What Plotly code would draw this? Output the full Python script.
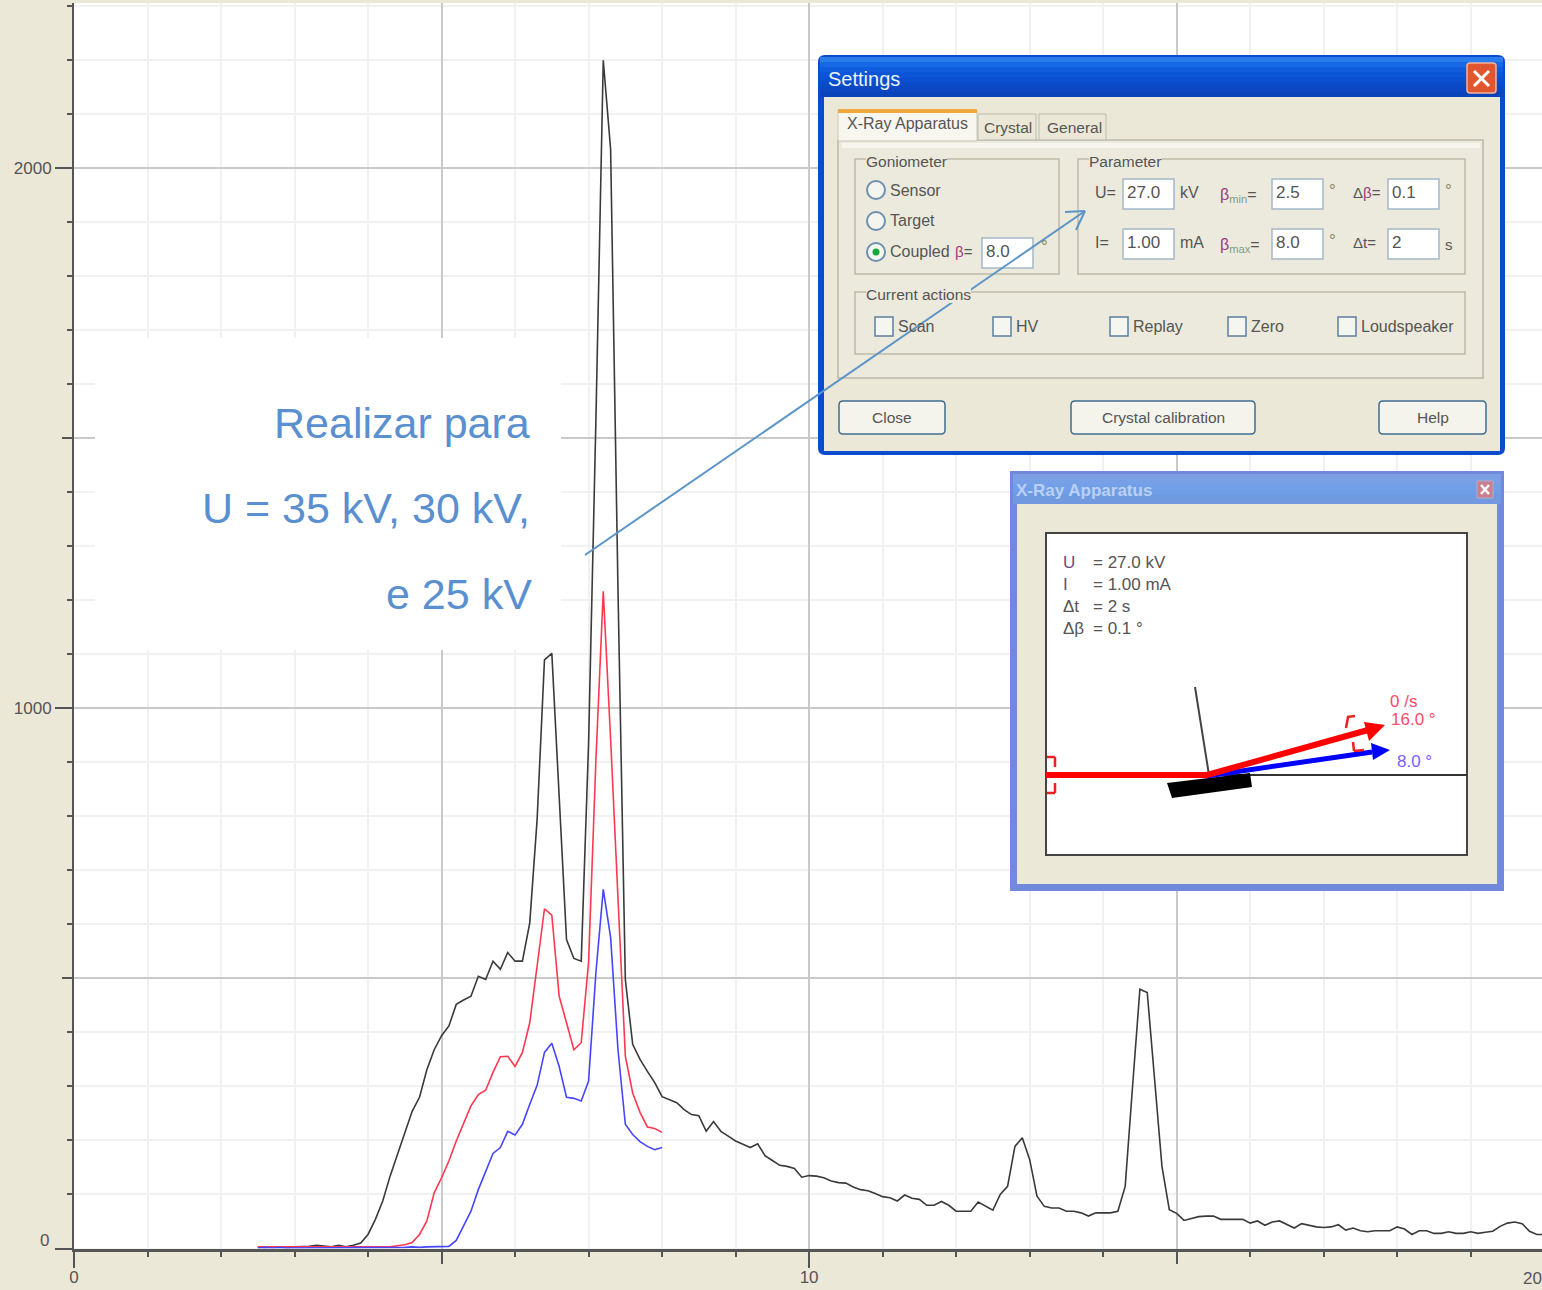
import plotly.graph_objects as go

W, H = 1542, 1290
BETA_START, BETA_STEP = 2.5, 0.1

# Counts per second; one value per 0.1 degree from 2.5 degrees.
rate_35kv = [
    3, 2, 3, 2, 2,                                    # 2.5 - 2.9
    3, 3, 4, 6, 5, 3, 6, 3,                           # 3.0 - 3.7
    6, 10,                                            # 3.8 - 3.9
    26, 54, 88, 134, 174, 215, 254, 280, 331, 368,    # 4.x
    394, 412, 452, 460, 467, 504, 498, 532, 517, 548, # 5.x
    532, 532, 603, 794, 1090, 1102, 831, 572, 537, 532, # 6.x
    935, 1535, 2200, 2035, 1220, 498, 378, 350, 328, 307, # 7.x
    281, 276, 270, 257, 248, 246, 217, 235, 217, 208, # 8.x
    199, 193, 187, 194, 172, 163, 154, 152, 148, 132, # 9.x
    135, 134, 131, 125, 122, 121, 114, 109, 107, 102, # 10.x
    96, 94, 88, 99, 93, 91, 80, 80, 87, 80,           # 11.x
    69, 69, 69, 86, 78, 71, 100, 115, 189, 205,       # 12.x
    165, 97, 78, 75, 75, 69, 69, 66, 60, 66,          # 13.x
    66, 66, 69, 115, 300, 480, 474, 313, 152, 72,     # 14.x
    65, 52, 56, 59, 60, 60, 54, 54, 54, 54,           # 15.x
    47, 51, 43, 49, 51, 44, 38, 46, 43, 40,           # 16.x
    39, 40, 44, 34, 38, 33, 31, 33, 33, 33,           # 17.x
    40, 36, 26, 33, 33, 28, 28, 31, 28, 28,           # 18.x
    31, 28, 30, 32, 41, 47, 49, 46, 32, 26,           # 19.x
    26,                                               # 20.0
]
rate_30kv = [
    3, 3, 2, 3, 2,
    2, 3, 2, 3, 2, 3, 2, 3, 2, 2, 3, 2, 3, 3,         # 3.0 - 4.3
    5, 7, 11, 26, 51, 103,                            # 4.4 - 4.9
    131, 162, 199, 230, 264, 285, 293, 326, 355, 356, # 5.x
    337, 363, 418, 523, 629, 617, 467, 418, 368, 381, # 6.x
    530, 905, 1217, 943, 646, 356, 288, 252, 225, 222, # 7.x
    215,
]
rate_25kv = [
    1, 2, 1, 2, 1,
    1, 2, 1, 2, 1, 1, 2, 1, 1, 2,                     # 3.0 - 3.9
    1, 2, 1, 2, 1, 2, 3, 2, 3, 3,                     # 4.x
    4, 4, 15, 41, 69, 109, 143, 176, 187, 217,        # 5.x
    210, 230, 267, 302, 363, 380, 337, 280, 278, 273, # 6.x
    310, 511, 665, 576, 368, 230, 211, 198, 189, 183, # 7.x
    187,
]

x_major = [0, 5, 10, 15, 20]
x_labelled = [0, 10]
x_labels = ["0", "10"]
y_major = [0, 500, 1000, 1500, 2000]
y_labelled = [1000, 2000]
y_labels = ["1000", "2000"]

note_lines = ["Realizar para", "U = 35 kV, 30 kV,", "e 25 kV"]
readout_names = ["U", "I", "Δt", "Δβ"]
readout_values = ["= 27.0 kV", "= 1.00 mA", "= 2 s", "= 0.1 °"]


def betas(values):
    return [round(BETA_START + BETA_STEP * i, 1) for i in range(len(values))]


BEIGE = "#EBE8D8"
TEXT = "#555555"
FONT = "Liberation Sans"
shapes, notes = [], []


def px(x):
    return x / W


def py(y):
    return 1 - y / H


def rect(x0, y0, x1, y1, fill=None, line=None, w=1):
    shapes.append(dict(type="rect", xref="paper", yref="paper", layer="above",
                       x0=px(x0), x1=px(x1), y0=py(y0), y1=py(y1),
                       fillcolor=fill or "rgba(0,0,0,0)",
                       line=dict(color=line or "rgba(0,0,0,0)", width=w if line else 0)))


def rrect(x0, y0, x1, y1, r, fill, line=None, w=1):
    a = [(x0 + r, y0), (x1 - r, y0), (x1, y0), (x1, y0 + r), (x1, y1 - r), (x1, y1),
         (x1 - r, y1), (x0 + r, y1), (x0, y1), (x0, y1 - r), (x0, y0 + r), (x0, y0)]
    p = [(px(u), py(v)) for u, v in a]
    d = (f"M{p[0][0]},{p[0][1]} L{p[1][0]},{p[1][1]} Q{p[2][0]},{p[2][1]} {p[3][0]},{p[3][1]} "
         f"L{p[4][0]},{p[4][1]} Q{p[5][0]},{p[5][1]} {p[6][0]},{p[6][1]} "
         f"L{p[7][0]},{p[7][1]} Q{p[8][0]},{p[8][1]} {p[9][0]},{p[9][1]} "
         f"L{p[10][0]},{p[10][1]} Q{p[11][0]},{p[11][1]} {p[0][0]},{p[0][1]} Z")
    shapes.append(dict(type="path", xref="paper", yref="paper", layer="above", path=d,
                       fillcolor=fill,
                       line=dict(color=line or "rgba(0,0,0,0)", width=w if line else 0)))


def seg(x0, y0, x1, y1, color, w=1):
    shapes.append(dict(type="line", xref="paper", yref="paper", layer="above",
                       x0=px(x0), x1=px(x1), y0=py(y0), y1=py(y1),
                       line=dict(color=color, width=w)))


def poly(points, fill, line=None, w=1):
    d = "M" + " L".join(f"{px(u)},{py(v)}" for u, v in points) + " Z"
    shapes.append(dict(type="path", xref="paper", yref="paper", layer="above", path=d,
                       fillcolor=fill,
                       line=dict(color=line or "rgba(0,0,0,0)", width=w if line else 0)))


def circle(cx, cy, r, fill, line=None, w=1):
    shapes.append(dict(type="circle", xref="paper", yref="paper", layer="above",
                       x0=px(cx - r), x1=px(cx + r), y0=py(cy + r), y1=py(cy - r),
                       fillcolor=fill,
                       line=dict(color=line or "rgba(0,0,0,0)", width=w if line else 0)))


def txt(x, y, s, size=16, color=TEXT, anchor="left", bg=None, family=FONT):
    notes.append(dict(xref="paper", yref="paper", x=px(x), y=py(y), text=s, showarrow=False,
                      xanchor=anchor, yanchor="middle", borderpad=0, borderwidth=0,
                      bgcolor=bg or "rgba(0,0,0,0)",
                      font=dict(family=family, size=size, color=color)))


# ---- white box with the Portuguese note
rect(95, 338, 561, 650, fill="#FFFFFF")
for line_text, yy, xx in zip(note_lines, [423, 508, 594], [530, 530, 532]):
    txt(xx, yy, line_text, size=43, color="#5A8FD0", anchor="right")

# ---- Settings dialog
rrect(818, 55, 1505, 455, 7, "#0A4CCB")
for i, colour in enumerate(["#2A7BEB", "#1668E4", "#0F5CDC", "#0C55D6", "#0A50D0", "#0A4BC8", "#0A47C0", "#0A44BA"]):
    rect(820, 57 + i * 5, 1503, 62 + i * 5, fill=colour)
rect(824, 97, 1500, 451, fill=BEIGE)
txt(828, 79, "Settings", size=20, color="#EAF2FF")
rrect(1467, 63, 1496, 93, 3, "#E2562F", line="#F5B49E", w=1.5)
seg(1474, 71, 1489, 86, "#FFFFFF", 3)
seg(1489, 71, 1474, 86, "#FFFFFF", 3)

rect(838, 140, 1483, 378, fill="#ECEADC", line="#B9B8A8", w=1.5)
rect(842, 143, 1480, 148, fill="#F6F5EE")
rect(838, 110, 977, 141, fill="#F7F6EF", line="#C9C7B6")
rect(838, 109, 977, 113, fill="#F2A93B")
rect(978, 114, 1036, 140, fill=BEIGE, line="#B9BDB0")
rect(1039, 114, 1106, 140, fill=BEIGE, line="#B9BDB0")
txt(847, 124, "X-Ray Apparatus", size=16)
txt(984, 127, "Crystal", size=15.5)
txt(1047, 127, "General", size=15.5)

rect(855, 159, 1059, 274, line="#BDBBA8", w=1.5)
rect(1078, 159, 1465, 274, line="#BDBBA8", w=1.5)
rect(855, 292, 1465, 354, line="#BDBBA8", w=1.5)
txt(866, 162, "Goniometer", size=15.5, bg="#ECEADC")
txt(1089, 162, "Parameter", size=15.5, bg="#ECEADC")
txt(866, 295, "Current actions", size=15.5, bg="#ECEADC")

for cy, label in zip([190, 221, 252], ["Sensor", "Target", "Coupled"]):
    circle(876, cy, 9, "#F5F5F0", line="#6E8FAF", w=2)
    txt(890, cy, label, size=16)
circle(876, 252, 3.5, "#18A83C")
BETA = '<span style="color:#9A3C80">β</span>'
txt(955, 252, BETA + "=", size=15)

for x0, y0, value in [(1123, 179, "27.0"), (1272, 179, "2.5"), (1388, 179, "0.1"),
                      (1123, 229, "1.00"), (1272, 229, "8.0"), (1388, 229, "2"),
                      (982, 238, "8.0")]:
    rect(x0, y0, x0 + 51, y0 + 30, fill="#FFFFFF", line="#A4B8C8", w=1.5)
    txt(x0 + 4, y0 + 14, value, size=17)

txt(1095, 193, "U=", size=16)
txt(1095, 243, "I=", size=16)
txt(1180, 193, "kV", size=16)
txt(1180, 243, "mA", size=16)
txt(1220, 195, BETA + '<span style="color:#7F9C8C"><sub>min</sub></span>=', size=16)
txt(1220, 245, BETA + '<span style="color:#7F9C8C"><sub>max</sub></span>=', size=16)
txt(1353, 193, "Δ" + BETA + "=", size=15)
txt(1353, 243, "Δt=", size=15)
for x_deg, y_deg in [(1329, 190), (1445, 190), (1329, 240), (1041, 247)]:
    txt(x_deg, y_deg, "°", size=17, color="#8A8A60")
txt(1445, 244, "s", size=15)

for x0, label in [(875, "Scan"), (993, "HV"), (1110, "Replay"), (1228, "Zero"), (1338, "Loudspeaker")]:
    rect(x0, 317, x0 + 18, 336, fill="#F6F6F0", line="#5E7F9E", w=1.5)
    txt(x0 + 23, 327, label, size=16)

for x0, x1, label in [(839, 945, "Close"), (1071, 1255, "Crystal calibration"), (1379, 1486, "Help")]:
    rrect(x0, 401, x1, 434, 4, "#F4F3EC", line="#3F6E90", w=1.5)
    txt((x0 + x1) / 2, 418, label, size=15.5, anchor="center")

# ---- X-Ray Apparatus window
rect(1010, 471, 1504, 891, fill="#7289DB")
for i, colour in enumerate(["#7C9FE4", "#77A0E6", "#72A0E8", "#6F9EE6", "#6E9AE2", "#7299DF"]):
    rect(1013, 474 + i * 5, 1501, 479 + i * 5, fill=colour)
rect(1017, 504, 1497, 884, fill=BEIGE)
txt(1016, 490, "<b>X-Ray Apparatus</b>", size=17, color="#BBD0F5")
rect(1477, 481, 1493, 498, fill="#C97F8F", line="#B9A9C5")
seg(1481, 485, 1489, 494, "#FFFFFF", 2.5)
seg(1489, 485, 1481, 494, "#FFFFFF", 2.5)
rect(1046, 533, 1467, 855, fill="#FFFFFF", line="#444444", w=2)
for name, value, yy in zip(readout_names, readout_values, [562, 584, 606, 628]):
    txt(1063, yy, name, size=17, color="#6A4A80" if name in ("U", "I") else "#555555")
    txt(1093, yy, value, size=17)
seg(1195, 687, 1209, 775, "#444444", 2)
seg(1046, 775, 1467, 775, "#333333", 2)
poly([(1167, 783), (1250, 773), (1252, 787), (1172, 798)], "#000000")
seg(1207, 776, 1372, 752, "#0000FF", 5)
poly([(1390, 750), (1371, 743), (1373, 760)], "#0000FF")
seg(1046, 775, 1208, 775, "#FF0000", 6)
seg(1207, 775, 1368, 730, "#FF0000", 6)
poly([(1385, 725), (1364, 722), (1369, 741)], "#FF0000")
seg(1055, 757, 1047, 757, "#EE2020", 2.5)
seg(1055, 757, 1055, 767, "#EE2020", 2.5)
seg(1055, 793, 1047, 793, "#EE2020", 2.5)
seg(1055, 783, 1055, 793, "#EE2020", 2.5)
seg(1346, 728, 1348, 717, "#EE2020", 2.5)
seg(1347, 717, 1355, 716, "#EE2020", 2.5)
seg(1353, 742, 1354, 751, "#EE2020", 2.5)
seg(1354, 751, 1364, 750, "#EE2020", 2.5)
txt(1390, 701, "0 /s", size=17, color="#FF4A6E")
txt(1391, 719, "16.0 °", size=17, color="#FF4A6E")
txt(1397, 761, "8.0 °", size=17, color="#7F5CFF")

# ---- arrow from the note to the U field
ARROW = "#5B94C8"
seg(585, 555, 1085, 211, ARROW, 2)
seg(1085, 211, 1065, 212, ARROW, 2)
seg(1085, 211, 1076, 230, ARROW, 2)

# ---- axis labels that sit off their ticks
txt(44, 1240, "0", size=17, anchor="center")
txt(1542, 1278, "20", size=17, anchor="right")

fig = go.Figure()
fig.add_trace(go.Scatter(x=betas(rate_35kv), y=rate_35kv, mode="lines", hoverinfo="skip",
                         line=dict(color="#3A3A3A", width=1.6)))
fig.add_trace(go.Scatter(x=betas(rate_30kv), y=rate_30kv, mode="lines", hoverinfo="skip",
                         line=dict(color="#FF3850", width=1.6)))
fig.add_trace(go.Scatter(x=betas(rate_25kv), y=rate_25kv, mode="lines", hoverinfo="skip",
                         line=dict(color="#4646FF", width=1.6)))
# Empty carriers so that the labelled axes are drawn.
fig.add_trace(go.Scatter(x=[None], y=[None], xaxis="x2", yaxis="y2", showlegend=False, hoverinfo="skip"))
fig.add_trace(go.Scatter(x=[None], y=[None], xaxis="x2", yaxis="y3", showlegend=False, hoverinfo="skip"))

AXIS = "#555555"
domain_x = [74 / W, 1]
domain_y = [(H - 1248.5) / H, (H - 3) / H]
x_range = [0, 19.97]
y_range = [0, 2306]
GRID_MAJOR, GRID_MINOR = "#C9C9C9", "#F1F1F1"

fig.update_layout(
    width=W, height=H, autosize=False, showlegend=False,
    margin=dict(l=0, r=0, t=0, b=0, pad=0),
    paper_bgcolor=BEIGE, plot_bgcolor="#FFFFFF",
    font=dict(family=FONT, size=17, color=TEXT),
    shapes=shapes, annotations=notes,
    xaxis=dict(domain=domain_x, range=x_range, anchor="y", automargin=False, tickmode="array",
               tickvals=x_major, showticklabels=False, ticks="outside", ticklen=12, tickwidth=2,
               tickcolor=AXIS, showgrid=True, gridcolor=GRID_MAJOR, gridwidth=1.5, zeroline=False,
               showline=True, linecolor=AXIS, linewidth=3, layer="below traces",
               minor=dict(tick0=0, dtick=1, ticks="outside", ticklen=5, tickwidth=1.5, tickcolor=AXIS,
                          showgrid=True, gridcolor=GRID_MINOR, gridwidth=1.5)),
    yaxis=dict(domain=domain_y, range=y_range, anchor="x", automargin=False, tickmode="array",
               tickvals=y_major, showticklabels=False, ticks="outside", ticklen=10, tickwidth=2,
               tickcolor=AXIS, showgrid=True, gridcolor=GRID_MAJOR, gridwidth=2, zeroline=False,
               showline=True, linecolor=AXIS, linewidth=2, layer="below traces",
               minor=dict(tick0=0, dtick=100, ticks="outside", ticklen=5, tickwidth=1.5, tickcolor=AXIS,
                          showgrid=True, gridcolor=GRID_MINOR, gridwidth=1.5)),
    xaxis2=dict(domain=domain_x, range=x_range, overlaying="x", anchor="y2", side="bottom", automargin=False,
                tickmode="array", tickvals=x_labelled, ticktext=x_labels, ticks="outside",
                ticklen=18, tickwidth=2, tickcolor=AXIS, showgrid=False, zeroline=False,
                ticklabelstandoff=-5, tickfont=dict(family=FONT, size=17, color=TEXT)),
    yaxis2=dict(domain=domain_y, range=y_range, overlaying="y", anchor="x2", side="left", automargin=False,
                tickmode="array", tickvals=y_labelled, ticktext=y_labels, ticks="outside",
                ticklen=18, tickwidth=2, tickcolor=AXIS, showgrid=False, zeroline=False,
                tickfont=dict(family=FONT, size=17, color=TEXT)),
    yaxis3=dict(domain=domain_y, range=y_range, overlaying="y", anchor="x2", side="left", automargin=False,
                tickmode="array", tickvals=[0], showticklabels=False, ticks="outside",
                ticklen=18, tickwidth=2, tickcolor=AXIS, showgrid=False, zeroline=False),
)

fig.write_html("out.html", config=dict(displayModeBar=False),
               post_script="document.body.style.margin='0';document.documentElement.style.overflow='hidden';")
